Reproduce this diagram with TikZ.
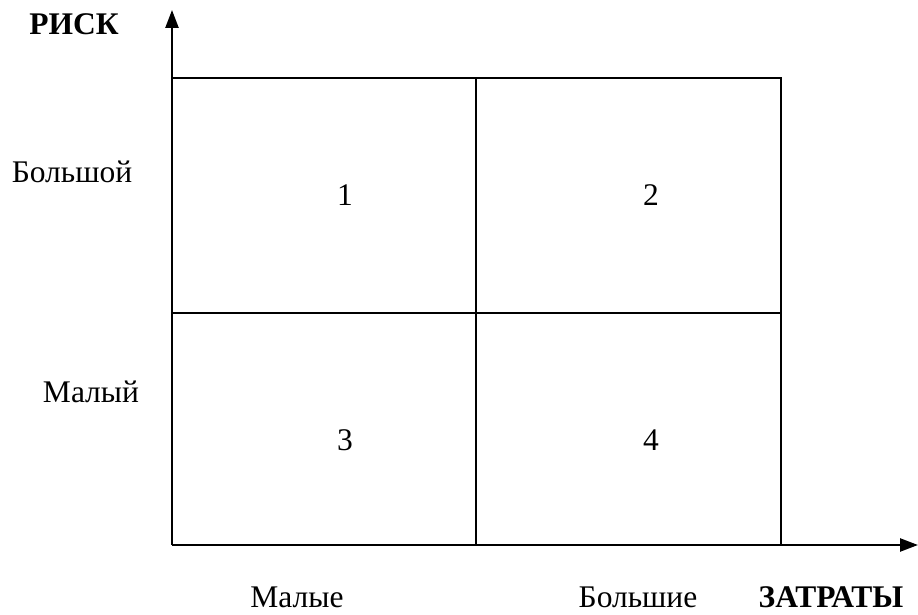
\documentclass[tikz,border=0pt]{standalone}
\usepackage{fontspec}
\setmainfont{Liberation Serif}
\usetikzlibrary{arrows.meta}
\begin{document}
\begin{tikzpicture}[x=1pt,y=1pt,
  lbl/.style={font=\fontsize{31.5}{38}\selectfont, anchor=base, inner sep=0pt},
  boldlbl/.style={lbl, font=\fontsize{31.5}{38}\selectfont\bfseries},
  grid/.style={line width=2.2pt, black},
  axis/.style={line width=2.4pt, black, -{Triangle[length=18pt,width=13pt]}}]
\useasboundingbox (0,0) rectangle (918,614);
% corners of the matrix
\coordinate (O) at (172,69);
\coordinate (TL) at (172,536);
\coordinate (TR) at (781,536);
\coordinate (BR) at (781,69);
\coordinate (MT) at (476,536);
\coordinate (MB) at (476,69);
\coordinate (ML) at (172,301);
\coordinate (MR) at (781,301);
\coordinate (YT) at (172,604);
\coordinate (XT) at (918,69);
% grid
\draw[grid] (TL) -- (TR) -- (BR);
\draw[grid] (MT) -- (MB);
\draw[grid] (ML) -- (MR);
% axes
\draw[axis] (O) -- (YT);
\draw[axis] (O) -- (XT);
% labels
\node[boldlbl] (risk) at (74,579) {РИСК};
\node[lbl] (big) at (72,431) {Большой};
\node[lbl] (small) at (91,212) {Малый};
\node[lbl] (n1) at (345,408) {1};
\node[lbl] (n2) at (651,408) {2};
\node[lbl] (n3) at (345,164) {3};
\node[lbl] (n4) at (651,164) {4};
\node[lbl] (smallc) at (297,7) {Малые};
\node[lbl] (bigc) at (638,7) {Большие};
\node[boldlbl] (cost) at (831,7) {ЗАТРАТЫ};
\end{tikzpicture}
\end{document}
